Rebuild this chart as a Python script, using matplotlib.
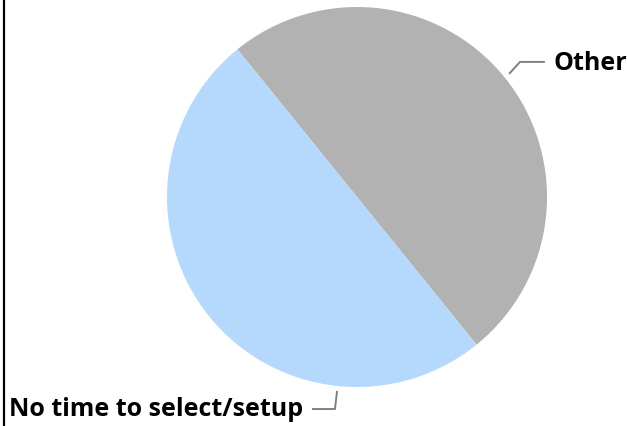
import numpy as np
import matplotlib.pyplot as plt
from matplotlib.lines import Line2D

labels = ["Other", "No time to select/setup"]
values = [50, 50]
colors = ["#b2b2b2", "#b5d9fc"]

W, H = 627, 426
fig = plt.figure(figsize=(W / 100, H / 100), dpi=100)

# pie centre (357, 197) px, radius 190 px
cx, cy, r = 357, 197, 190
ax = fig.add_axes([(cx - r) / W, (H - cy - r) / H, 2 * r / W, 2 * r / H])
wedges, _ = ax.pie(values, colors=colors, startangle=129, counterclock=False,
                   radius=1, wedgeprops=dict(linewidth=0))
ax.set_xlim(-1, 1)
ax.set_ylim(-1, 1)
ax.set_aspect("equal")
ax.axis("off")

font = dict(family=["Open Sans", "DejaVu Sans"], fontweight="bold", fontsize=18)
line_kw = dict(color="#808080", lw=1.4, clip_on=False, solid_capstyle="butt")

# "Other" label at the wedge's mid angle
w = wedges[0]
ang = np.deg2rad((w.theta1 + w.theta2) / 2)
p0 = (1.03 * np.cos(ang), 1.03 * np.sin(ang))
ax.plot([p0[0], 0.858, 0.989], [p0[1], 0.711, 0.711], **line_kw)
ax.text(1.032, 0.700, labels[0], ha="left", va="center", **font)

# "No time to select/setup" label below the pie
ax.plot([-0.105, -0.116, -0.237], [-1.021, -1.116, -1.116], **line_kw)
ax.text(-0.284, -1.116, labels[1], ha="right", va="center", **font)

fig.add_artist(Line2D([3.5 / W, 3.5 / W], [0, 1], color="black", lw=1.6))

fig.savefig("out.png", dpi=100)
